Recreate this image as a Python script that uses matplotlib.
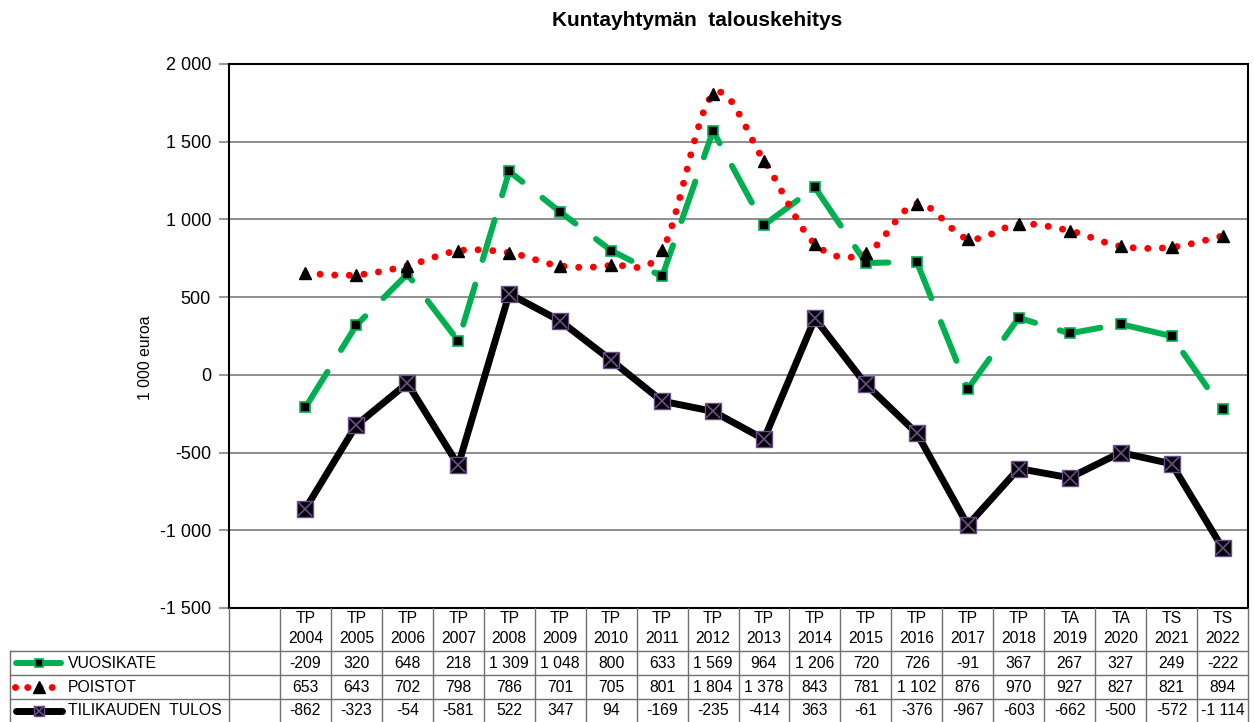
import matplotlib.pyplot as plt
import numpy as np
from matplotlib.path import Path
from matplotlib.patches import PathPatch
from matplotlib.lines import Line2D
import matplotlib.transforms as mtransforms

plt.rcParams['font.family'] = ['Liberation Sans', 'DejaVu Sans']

# Data
kaudet = ["TP\n2004", "TP\n2005", "TP\n2006", "TP\n2007", "TP\n2008", "TP\n2009",
          "TP\n2010", "TP\n2011", "TP\n2012", "TP\n2013", "TP\n2014", "TP\n2015",
          "TP\n2016", "TP\n2017", "TP\n2018", "TA\n2019", "TA\n2020", "TS\n2021",
          "TS\n2022"]
vuosikate = [-209, 320, 648, 218, 1309, 1048, 800, 633, 1569, 964, 1206, 720,
             726, -91, 367, 267, 327, 249, -222]
poistot = [653, 643, 702, 798, 786, 701, 705, 801, 1804, 1378, 843, 781,
           1102, 876, 970, 927, 827, 821, 894]
tulos = [-862, -323, -54, -581, 522, 347, 94, -169, -235, -414, 363, -61,
         -376, -967, -603, -662, -500, -572, -1114]
sarjat = ["VUOSIKATE", "POISTOT", "TILIKAUDEN  TULOS"]

GREEN = "#00B050"
RED = "#FF0000"
PURPLE = "#6B4E8E"
GRID = "#868686"
TLINE = "#707070"

W, H = 1254, 722


def fx(px):
    return px / W


def fy(py):
    return 1 - py / H


def fmt(v):
    return f"{v:,}".replace(",", " ")


fig = plt.figure(figsize=(W / 100, H / 100), dpi=100)
ax = fig.add_axes([fx(229), fy(608), fx(1248) - fx(229), fy(64) - fy(608)])

n = len(kaudet)
x = np.arange(n)

ax.set_xlim(-1.5, n - 0.5)
ax.set_ylim(-1500, 2000)
yt = np.arange(-1500, 2001, 500)
ax.set_yticks(yt)
ax.set_yticklabels([fmt(int(v)) for v in yt])
ax.set_xticks([])
ax.yaxis.grid(True, color=GRID, lw=1.3)
ax.set_axisbelow(True)
ax.tick_params(axis="y", length=7, width=1.2, color=GRID, labelsize=13, pad=6)
for s in ax.spines.values():
    s.set_color("black")
    s.set_linewidth(1.5)

# VUOSIKATE - straight dashed green
ax.plot(x, vuosikate, color=GREEN, lw=4.3, linestyle=(0, (7, 4.3)),
        dash_capstyle="round", marker="s", ms=7, mfc="black", mec=GREEN,
        mew=1.2, zorder=3)

# POISTOT - smoothed red dotted line (Catmull-Rom bezier through the points)
yp = np.array(poistot, float)
verts = [(x[0], yp[0])]
codes = [Path.MOVETO]
for i in range(n - 1):
    i0 = max(i - 1, 0)
    i3 = min(i + 2, n - 1)
    c1 = (x[i] + (x[i + 1] - x[i0]) / 6, yp[i] + (yp[i + 1] - yp[i0]) / 6)
    c2 = (x[i + 1] - (x[i3] - x[i]) / 6, yp[i + 1] - (yp[i3] - yp[i]) / 6)
    verts += [c1, c2, (x[i + 1], yp[i + 1])]
    codes += [Path.CURVE4] * 3
patch = PathPatch(Path(verts, codes), fill=False, edgecolor=RED, lw=5,
                  linestyle=(0, (0.01, 2.1)), capstyle="round", zorder=4)
ax.add_patch(patch)
ax.plot(x, poistot, linestyle="none", marker="^", ms=8.5, color="black", zorder=4)

# TILIKAUDEN TULOS - solid black
ax.plot(x, tulos, color="black", lw=5, marker="s", ms=11.5, mfc="black",
        mec=PURPLE, mew=1, zorder=5)
ax.plot(x, tulos, linestyle="none", marker="x", ms=10, mec=PURPLE, mew=1.2,
        zorder=6)

# Titles
fig.text(fx(697), fy(20), "Kuntayhtymän  talouskehitys", fontsize=15,
         fontweight="bold", ha="center", va="center")
fig.text(fx(145), fy(358), "1 000 euroa", fontsize=11.3, rotation=90,
         ha="center", va="center")

# Data table
trans = mtransforms.blended_transform_factory(ax.transData, fig.transFigure)
ftr = fig.transFigure
row_lines = [651, 675, 699]
for yy in row_lines:
    fig.add_artist(Line2D([fx(10), fx(1248)], [fy(yy), fy(yy)], transform=ftr,
                          color=TLINE, lw=1))
fig.add_artist(Line2D([fx(10), fx(10)], [fy(651), fy(722)], transform=ftr,
                      color=TLINE, lw=1))
fig.add_artist(Line2D([fx(229), fx(229)], [fy(608), fy(722)], transform=ftr,
                      color=TLINE, lw=1))
for k in range(n + 1):
    xb = k - 0.5
    fig.add_artist(Line2D([xb, xb], [fy(608), fy(722)], transform=trans,
                          color=TLINE, lw=1))

tsize = 11.3
for i, lab in enumerate(kaudet):
    fig.text(i, fy(628.5), lab, transform=trans, ha="center", va="center",
             fontsize=tsize, linespacing=1.35)

row_c = [663, 687, 710.5]
for vals, yc in zip([vuosikate, poistot, tulos], row_c):
    for i, v in enumerate(vals):
        fig.text(i, fy(yc), fmt(v), transform=trans, ha="center", va="center",
                 fontsize=tsize)

# Legend keys in the row headers
for name, yc in zip(sarjat, row_c):
    fig.text(fx(68), fy(yc), name, transform=ftr, ha="left", va="center",
             fontsize=tsize)

yc = fy(row_c[0])
fig.add_artist(Line2D([fx(16), fx(61)], [yc, yc], transform=ftr, color=GREEN,
                      lw=4.3, solid_capstyle="round"))
fig.add_artist(Line2D([fx(39)], [yc], transform=ftr, marker="s", ms=5.5,
                      mfc="black", mec=GREEN, mew=1.2, linestyle="none"))
yc = fy(row_c[1])
fig.add_artist(Line2D([fx(15), fx(52)], [yc, yc], transform=ftr, color=RED,
                      lw=5, linestyle=(0, (0.01, 1.75)), dash_capstyle="round"))
fig.add_artist(Line2D([fx(39)], [yc], transform=ftr, marker="^", ms=8,
                      color="black", linestyle="none"))
yc = fy(row_c[2])
fig.add_artist(Line2D([fx(16), fx(62)], [yc, yc], transform=ftr,
                      color="black", lw=5, solid_capstyle="round"))
fig.add_artist(Line2D([fx(39)], [yc], transform=ftr, marker="s", ms=7.5,
                      mfc="black", mec=PURPLE, mew=1, linestyle="none"))
fig.add_artist(Line2D([fx(39)], [yc], transform=ftr, marker="x", ms=6.5,
                      mec=PURPLE, mew=1.2, linestyle="none"))

fig.savefig("out.png", dpi=100)
